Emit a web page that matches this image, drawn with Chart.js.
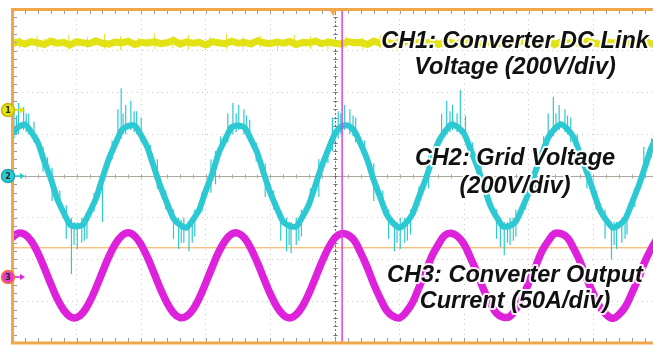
<!DOCTYPE html>
<html>
<head>
<meta charset="utf-8">
<title>Converter waveforms</title>
<script src="https://cdn.jsdelivr.net/npm/chart.js@4.4.1/dist/chart.umd.min.js"></script>
<style>
  html, body { margin: 0; padding: 0; background: #fff; overflow: hidden; }
  canvas { display: block; }
</style>
</head>
<body>
<canvas id="scope" width="660" height="345"></canvas>
<script>
// time in ms (10 ms/div, one sample per ms), amplitude in screen divisions
const sampleMs = 1;

const ch1Dc = [
  3.18, 3.21, 3.16, 3.22, 3.19, 3.15, 3.23, 3.18, 3.20, 3.14,
  3.22, 3.19, 3.17, 3.24, 3.18, 3.16, 3.21, 3.19, 3.23, 3.15,
  3.20, 3.18, 3.22, 3.17, 3.19, 3.25, 3.16, 3.21, 3.18, 3.20,
  3.14, 3.22, 3.19, 3.17, 3.23, 3.18, 3.20, 3.16, 3.24, 3.19,
  3.17, 3.21, 3.18, 3.22, 3.15, 3.20, 3.19, 3.23, 3.17, 3.21,
  3.18, 3.16, 3.22, 3.19, 3.20, 3.15, 3.23, 3.18, 3.21, 3.17,
  3.19, 3.24, 3.16, 3.20, 3.18, 3.22, 3.15, 3.21, 3.19, 3.17,
  3.23, 3.18, 3.20, 3.16, 3.22, 3.19, 3.17, 3.21, 3.18, 3.24,
  3.16, 3.20, 3.19, 3.22, 3.15, 3.21, 3.18, 3.20, 3.17, 3.23,
  3.19, 3.16, 3.21, 3.18, 3.22, 3.17, 3.20, 3.19, 3.23, 3.16,
  3.21
];

const ch2Grid = [
  1.02, 1.17, 1.24, 1.05, 0.80, 0.35, -0.06, -0.55, -0.88, -1.17,
  -1.21, -1.16, -0.87, -0.54, -0.05, 0.41, 0.77, 1.10, 1.20, 1.21,
  0.97, 0.67, 0.20, -0.26, -0.65, -1.02, -1.17, -1.24, -1.05, -0.80,
  -0.35, 0.06, 0.55, 0.88, 1.17, 1.21, 1.16, 0.87, 0.54, 0.05,
  -0.41, -0.77, -1.10, -1.20, -1.21, -0.97, -0.67, -0.20, 0.26, 0.65,
  1.02, 1.19, 1.21, 1.08, 0.76, 0.39, -0.10, -0.51, -0.92, -1.13,
  -1.24, -1.12, -0.91, -0.50, -0.09, 0.37, 0.81, 1.06, 1.24, 1.17,
  1.01, 0.63, 0.24, -0.22, -0.69, -0.98, -1.21, -1.20, -1.09, -0.76,
  -0.39, 0.10, 0.51, 0.92, 1.13, 1.24, 1.12, 0.91, 0.50, 0.09,
  -0.37, -0.81, -1.06, -1.24, -1.17, -1.01, -0.63, -0.24, 0.22, 0.69,
  0.98
];

const ch3Current = [
  -1.48, -1.37, -1.40, -1.56, -1.84, -2.20, -2.58, -2.94, -3.21, -3.37,
  -3.39, -3.27, -3.02, -2.68, -2.30, -1.93, -1.63, -1.43, -1.36, -1.44,
  -1.65, -1.96, -2.33, -2.71, -3.04, -3.28, -3.39, -3.36, -3.20, -2.92,
  -2.56, -2.18, -1.82, -1.55, -1.39, -1.37, -1.49, -1.74, -2.08, -2.46,
  -2.83, -3.13, -3.33, -3.40, -3.32, -3.11, -2.80, -2.43, -2.05, -1.72,
  -1.48, -1.38, -1.41, -1.55, -1.85, -2.19, -2.59, -2.93, -3.22, -3.36,
  -3.40, -3.26, -3.03, -2.67, -2.31, -1.92, -1.64, -1.42, -1.37, -1.45,
  -1.64, -1.97, -2.32, -2.72, -3.03, -3.29, -3.38, -3.37, -3.19, -2.93,
  -2.55, -2.19, -1.81, -1.56, -1.38, -1.38, -1.48, -1.75, -2.07, -2.47,
  -2.82, -3.14, -3.32, -3.41, -3.31, -3.12, -2.79, -2.44, -2.04, -1.73,
  -1.47
];

// noise spikes on the traces: time, low end, high end
const ch1SpikeT  = [0.5, 1.2, 2.6, 3.9, 5.1, 6.5, 7.6, 8.8, 10.2, 11.7, 13.0, 14.3, 15.5, 16.8, 18.2, 19.6, 20.9, 22.1, 23.4,
                    24.9, 26.0, 27.3, 28.8, 30.6, 31.9, 33.2, 34.5, 35.8, 37.1, 38.4, 39.8, 41.1, 42.4, 43.7, 45.0, 46.2,
                    47.6, 48.9, 50.3, 51.7, 53.0, 54.3, 55.6, 57.0, 58.3, 59.6, 60.9, 62.2, 63.5, 65.1, 66.4, 67.8, 69.1,
                    70.4, 71.7, 73.0, 74.4, 75.9, 77.2, 78.5, 79.9, 81.2, 82.6, 83.9, 85.2, 86.6, 87.9, 89.3, 90.6, 91.9,
                    93.3, 94.7, 96.0, 97.4, 98.7];
const ch1SpikeLo = [3.10, 3.06, 3.12, 3.04, 3.09, 3.08, 3.11, 3.03, 3.10, 3.07, 3.12, 3.05, 3.09, 3.02, 3.11, 3.08, 3.10, 3.04, 3.12,
                    3.06, 3.09, 3.03, 3.11, 3.07, 3.10, 3.05, 3.12, 3.04, 3.09, 3.08, 3.11, 3.02, 3.10, 3.06, 3.12, 3.05,
                    3.09, 3.03, 3.11, 3.07, 3.10, 3.04, 3.12, 3.06, 3.09, 3.03, 3.11, 3.08, 3.10, 3.05, 3.12, 3.04, 3.09,
                    3.07, 3.11, 3.03, 3.10, 3.06, 3.12, 3.05, 3.09, 3.08, 3.11, 3.04, 3.10, 3.06, 3.12, 3.03, 3.09, 3.07,
                    3.11, 3.05, 3.10, 3.04, 3.12];
const ch1SpikeHi = [3.28, 3.32, 3.27, 3.36, 3.29, 3.30, 3.26, 3.38, 3.29, 3.33, 3.27, 3.40, 3.28, 3.35, 3.26, 3.31, 3.29, 3.42, 3.27,
                    3.34, 3.28, 3.37, 3.26, 3.32, 3.29, 3.39, 3.27, 3.33, 3.28, 3.36, 3.26, 3.30, 3.29, 3.38, 3.27, 3.34,
                    3.28, 3.31, 3.26, 3.35, 3.29, 3.32, 3.27, 3.37, 3.28, 3.33, 3.26, 3.30, 3.29, 3.36, 3.27, 3.34, 3.28,
                    3.31, 3.26, 3.38, 3.29, 3.33, 3.27, 3.35, 3.28, 3.32, 3.26, 3.37, 3.29, 3.30, 3.27, 3.34, 3.28, 3.36,
                    3.26, 3.32, 3.29, 3.35, 3.27];

const ch2SpikeT  = [0.3, 1.0, 1.8, 2.6, 3.4, 4.8, 6.2, 8.4, 9.2, 10.1, 10.8, 11.6, 14.0,
                    16.4, 16.9, 17.6, 18.4, 19.3, 20.0, 22.5, 25.0, 25.8, 26.6, 27.4, 28.3, 30.8, 31.5,
                    33.4, 34.2, 35.1, 35.9, 36.8, 39.2, 41.6, 42.5, 43.2, 44.0, 44.8, 47.5,
                    49.6, 50.5, 51.5, 52.3, 53.2, 56.0, 58.3, 59.2, 60.1, 60.8, 61.7, 64.5,
                    66.5, 67.3, 68.2, 69.4, 70.2, 72.6, 75.0, 75.6, 76.2, 77.1, 78.0, 81.0,
                    83.0, 83.8, 84.7, 85.6, 86.5, 89.0, 91.8, 92.8, 93.6, 94.4, 95.2, 97.8];
const ch2SpikeLo = [0.90, 1.00, 1.10, 1.00, 0.80, 0.10, -0.60, -1.50, -2.35, -1.75, -1.60, -1.50, -1.10,
                    0.80, 0.90, 1.00, 1.10, 1.00, 0.80, -0.30, -1.50, -1.75, -1.60, -1.80, -1.45, -0.40, -0.20,
                    0.80, 1.00, 1.10, 1.00, 0.80, -0.50, -1.55, -1.80, -1.85, -1.65, -1.45, -0.50,
                    0.60, 0.90, 1.10, 1.00, 0.80, -0.60, -1.50, -1.80, -1.75, -1.60, -1.40, -0.30,
                    0.80, 1.00, 1.10, 1.00, 0.80, -0.20, -1.50, -1.70, -1.90, -1.65, -1.45, -0.30,
                    0.80, 0.95, 1.10, 1.05, 0.80, -0.30, -1.50, -2.00, -1.75, -1.60, -1.40, 0.00];
const ch2SpikeHi = [1.60, 1.75, 1.65, 1.50, 1.30, 0.70, 0.20, -0.70, -1.00, -1.10, -1.00, -0.90, 0.00,
                    1.60, 2.10, 1.70, 1.80, 1.55, 1.40, 0.40, -0.80, -1.00, -1.00, -1.10, -0.80, 0.40, 0.60,
                    1.50, 1.75, 1.70, 1.60, 1.35, 0.30, -0.90, -1.00, -1.10, -1.00, -0.80, 0.40,
                    1.40, 1.55, 1.70, 1.60, 1.40, 0.30, -0.80, -1.10, -1.00, -1.00, -0.80, 0.50,
                    1.50, 1.80, 1.70, 2.06, 1.45, 0.50, -0.80, -1.00, -1.10, -1.00, -0.80, 0.60,
                    1.50, 1.90, 1.70, 1.60, 1.40, 0.40, -0.80, -1.10, -1.10, -1.00, -0.80, 0.70];

// shorter hair on CH2 around peaks, troughs and slopes
const ch2HairT  = [0.7, 2.2, 5.5, 7.4, 9.6, 11.2, 12.7, 15.5, 17.2, 18.9, 21.4, 23.8, 26.2, 27.9, 29.4, 32.3,
                   34.7, 36.3, 37.8, 40.5, 42.9, 44.4, 46.2, 48.9, 50.9, 52.8, 54.6, 57.4, 59.6, 61.2, 63.0, 65.4,
                   67.8, 68.9, 71.3, 73.9, 76.7, 77.6, 79.5, 82.3, 84.2, 86.0, 87.5, 90.4, 93.2, 94.9, 96.4, 99.0];
const ch2HairLo = [1.00, 1.05, 0.00, -0.75, -1.65, -1.55, -0.85, 0.40, 1.00, 1.05, 0.30, -0.80, -1.60, -1.60, -0.85, 0.50,
                   1.05, 0.95, 0.35, -0.80, -1.65, -1.55, -0.75, 0.30, 1.00, 0.95, 0.40, -0.80, -1.60, -1.55, -0.70, 0.30,
                   1.05, 1.05, 0.35, -0.70, -1.60, -1.55, -0.80, 0.55, 1.05, 1.00, 0.60, -0.80, -1.65, -1.50, -0.75, 0.45];
const ch2HairHi = [1.45, 1.50, 0.45, -0.35, -1.10, -1.00, -0.40, 0.85, 1.50, 1.55, 0.75, -0.35, -1.05, -1.00, -0.40, 0.95,
                   1.50, 1.45, 0.80, -0.35, -1.10, -1.00, -0.30, 0.75, 1.50, 1.45, 0.85, -0.35, -1.10, -1.00, -0.25, 0.75,
                   1.55, 1.50, 0.80, -0.25, -1.10, -1.00, -0.35, 0.95, 1.50, 1.45, 1.00, -0.35, -1.10, -0.95, -0.30, 0.90];

// scope settings
const channelOffsets = [1.58, 0, -2.42];
const channelNames = ['1', '2', '3'];
const triggerLevel = -1.72;
const cursorT = 51.1;

const labelLines = [
  ['CH1: Converter DC Link', 'Voltage (200V/div)'],
  ['CH2: Grid Voltage', '(200V/div)'],
  ['CH3: Converter Output', 'Current (50A/div)']
];

const toPoints = arr => arr.map((v, i) => ({ x: i * sampleMs, y: v }));

function spikeSegments(ts, lo, hi) {
  const pts = [];
  ts.forEach((t, i) => {
    pts.push({ x: t, y: lo[i] }, { x: t, y: hi[i] }, { x: t, y: null });
  });
  return pts;
}

const ORANGE = '#f2a64a';
const YELLOW = '#e2e214';
const CYAN = '#2cc9d3';
const MAGENTA = '#de22dc';

const scopeDecor = {
  id: 'scopeDecor',
  beforeDatasetsDraw(chart) {
    const { ctx, chartArea: a, scales: { x, y } } = chart;
    const cx = Math.round(x.getPixelForValue(50)) + 0.5;
    const cy = Math.round(y.getPixelForValue(0)) + 0.5;
    ctx.save();
    // horizontal centre line
    ctx.strokeStyle = '#b0a79c';
    ctx.lineWidth = 1;
    ctx.beginPath();
    ctx.moveTo(a.left, cy); ctx.lineTo(a.right, cy);
    ctx.stroke();
    for (let t = 0; t <= 100; t += 2) {
      const px = Math.round(x.getPixelForValue(t)) + 0.5;
      ctx.beginPath(); ctx.moveTo(px, cy - 2); ctx.lineTo(px, cy + 2); ctx.stroke();
    }
    // vertical centre line
    ctx.strokeStyle = '#7a6a8a';
    ctx.setLineDash([2, 2]);
    ctx.beginPath();
    ctx.moveTo(cx, a.top); ctx.lineTo(cx, a.bottom);
    ctx.stroke();
    ctx.setLineDash([]);
    for (let d = -4; d <= 4; d += 0.2) {
      const py = Math.round(y.getPixelForValue(d)) + 0.5;
      ctx.beginPath(); ctx.moveTo(cx - 2, py); ctx.lineTo(cx + 2, py); ctx.stroke();
    }
    ctx.restore();
  },
  afterDatasetsDraw(chart) {
    const { ctx, chartArea: a, scales: { x, y } } = chart;
    ctx.save();
    // minor ticks on the frame
    ctx.strokeStyle = '#9a9a9a';
    ctx.lineWidth = 1;
    for (let t = 0; t <= 100; t += 2) {
      const px = Math.round(x.getPixelForValue(t)) + 0.5;
      ctx.beginPath();
      ctx.moveTo(px, a.top); ctx.lineTo(px, a.top + 5);
      ctx.moveTo(px, a.bottom); ctx.lineTo(px, a.bottom - 5);
      ctx.stroke();
    }
    for (let d = -4; d <= 4; d += 0.2) {
      const py = Math.round(y.getPixelForValue(d)) + 0.5;
      ctx.beginPath(); ctx.moveTo(a.left, py); ctx.lineTo(a.left + 5, py); ctx.stroke();
    }
    // orange frame (left, top, bottom)
    ctx.strokeStyle = ORANGE;
    ctx.lineWidth = 3;
    ctx.beginPath();
    ctx.moveTo(a.right + 5, a.top + 0.5); ctx.lineTo(a.left + 0.5, a.top + 0.5);
    ctx.lineTo(a.left + 0.5, a.bottom); ctx.lineTo(a.right + 5, a.bottom);
    ctx.stroke();
    // trigger position marker
    const tx = x.getPixelForValue(49.7);
    ctx.fillStyle = ORANGE;
    ctx.beginPath();
    ctx.moveTo(tx - 4, a.top); ctx.lineTo(tx + 4, a.top); ctx.lineTo(tx, a.top + 7);
    ctx.closePath(); ctx.fill();

    // channel ground markers
    const fills = [YELLOW, CYAN, '#e43cc8'];
    const rings = ['#c9b400', '#1aa8b4', '#f07a3a'];
    const arrows = [YELLOW, CYAN, MAGENTA];
    channelOffsets.forEach((off, i) => {
      const py = y.getPixelForValue(off);
      const mx = a.left - 4;
      ctx.strokeStyle = arrows[i];
      ctx.lineWidth = 1.5;
      ctx.beginPath(); ctx.moveTo(mx + 6, py); ctx.lineTo(mx + 14, py); ctx.stroke();
      ctx.fillStyle = arrows[i];
      ctx.beginPath();
      ctx.moveTo(mx + 17, py); ctx.lineTo(mx + 12, py - 3); ctx.lineTo(mx + 12, py + 3);
      ctx.closePath(); ctx.fill();
      ctx.beginPath(); ctx.arc(mx, py, 6.5, 0, Math.PI * 2);
      ctx.fillStyle = fills[i]; ctx.fill();
      ctx.lineWidth = 1.5; ctx.strokeStyle = rings[i]; ctx.stroke();
      ctx.fillStyle = '#2a2a2a';
      ctx.font = 'bold 8px "DejaVu Sans", sans-serif';
      ctx.textAlign = 'center'; ctx.textBaseline = 'middle';
      ctx.fillText(channelNames[i], mx, py + 0.5);
    });

    // channel annotations
    const rows = [[42, 68], [159, 187], [276, 302]];
    ctx.font = 'italic bold 23.5px "Liberation Sans", Arial, sans-serif';
    ctx.textAlign = 'center';
    ctx.textBaseline = 'middle';
    ctx.lineJoin = 'round';
    labelLines.forEach((lines, i) => {
      lines.forEach((s, j) => {
        const ty = rows[i][j];
        ctx.strokeStyle = 'rgba(255,255,255,0.9)';
        ctx.lineWidth = 4;
        ctx.strokeText(s, 515, ty);
        ctx.fillStyle = '#111';
        ctx.fillText(s, 515, ty);
      });
    });
    ctx.restore();
  }
};

new Chart(document.getElementById('scope'), {
  type: 'line',
  data: {
    datasets: [
      { label: 'cursor', data: [{ x: cursorT, y: -4 }, { x: cursorT, y: 4 }],
        borderColor: '#e040e0', borderWidth: 1.5, order: 0 },
      { label: 'CH3', data: toPoints(ch3Current), borderColor: MAGENTA,
        borderWidth: 7.5, tension: 0.4, order: 1 },
      { label: 'CH2 spikes', data: spikeSegments(ch2SpikeT, ch2SpikeLo, ch2SpikeHi),
        borderColor: CYAN, borderWidth: 1.2, order: 2 },
      { label: 'CH2 hair', data: spikeSegments(ch2HairT, ch2HairLo, ch2HairHi),
        borderColor: CYAN, borderWidth: 1.2, order: 2 },
      { label: 'CH2', data: toPoints(ch2Grid), borderColor: CYAN,
        borderWidth: 6, tension: 0.2, order: 3 },
      { label: 'CH1 spikes', data: spikeSegments(ch1SpikeT, ch1SpikeLo, ch1SpikeHi),
        borderColor: YELLOW, borderWidth: 1, order: 4 },
      { label: 'CH1', data: toPoints(ch1Dc), borderColor: YELLOW,
        borderWidth: 7, order: 5 },
      { label: 'trigger', data: [{ x: 0, y: triggerLevel }, { x: 100, y: triggerLevel }],
        borderColor: ORANGE, borderWidth: 1, order: 6 }
    ]
  },
  options: {
    responsive: false,
    animation: false,
    parsing: true,
    elements: { point: { radius: 0 } },
    layout: { padding: { left: 12, top: 9, right: 2, bottom: 2 } },
    plugins: { legend: { display: false }, tooltip: { enabled: false } },
    scales: {
      x: {
        type: 'linear', min: 0, max: 100,
        ticks: { display: false, stepSize: 10 },
        grid: { color: '#c9c9c9', drawTicks: false },
        border: { display: false, dash: [1, 4] }
      },
      y: {
        type: 'linear', min: -4, max: 4,
        ticks: { display: false, stepSize: 1 },
        grid: { color: '#c9c9c9', drawTicks: false },
        border: { display: false, dash: [1, 4] }
      }
    }
  },
  plugins: [scopeDecor]
});
</script>
</body>
</html>
